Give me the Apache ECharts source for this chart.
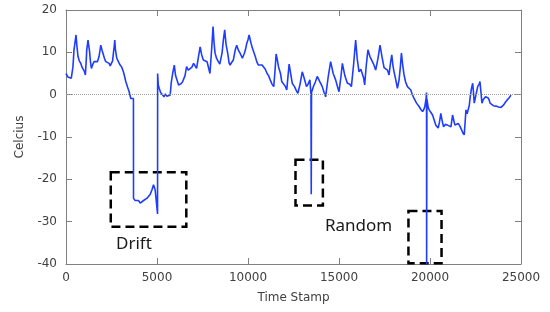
<!DOCTYPE html>
<html>
<head>
<meta charset="utf-8">
<script src="https://cdn.jsdelivr.net/npm/echarts@6/dist/echarts.min.js"></script>
<style>
  html, body { margin: 0; padding: 0; background: #fff; }
  #chart { width: 550px; height: 312px; }
</style>
</head>
<body>
<div id="chart"></div>
<script>
// time stamps (x) and temperature readings (y)
const timeStamps = [
  0, 100, 200, 290, 380, 440, 500, 550, 600, 660, 730, 810, 880, 955, 1010, 1065,
  1110, 1140, 1210, 1250, 1285, 1340, 1395, 1460, 1540, 1630, 1725, 1815, 1870, 1910,
  1980, 2055, 2120, 2185, 2280, 2370, 2430, 2495, 2560, 2605, 2650, 2680, 2720, 2790,
  2880, 2975, 3060, 3155, 3220, 3285, 3380, 3470, 3560, 3705,
  3710, 3800, 3890, 3980, 4080, 4165, 4260, 4350, 4440, 4530, 4630, 4720, 4810, 4900,
  4995, 5030,
  5035, 5070, 5120, 5200, 5300, 5380, 5460, 5550, 5640, 5725, 5780, 5860, 5950, 6020,
  6095, 6185, 6300, 6400, 6460, 6540, 6625, 6720, 6810, 6920, 7010, 7085, 7175, 7280,
  7370, 7450, 7545, 7650, 7750, 7820, 7910, 8000, 8080, 8130, 8190, 8280, 8370, 8450,
  8520, 8580, 8645, 8720, 8790, 8885, 8960, 9015, 9100, 9195, 9300, 9380, 9470, 9565,
  9630, 9690, 9800, 9860, 9930, 10000, 10060, 10095, 10170, 10240, 10315, 10400, 10480,
  10570, 10665, 10775, 10850, 10950, 11050, 11130, 11220, 11320, 11415, 11490, 11545,
  11600, 11675, 11785, 11855, 11950, 12060, 12130, 12200, 12260, 12330, 12430, 12555,
  12650, 12740, 12860, 12980, 13080, 13215, 13300, 13400, 13460,
  13475, 13490, 13600, 13700, 13805, 13950, 14080, 14180, 14265, 14400, 14540, 14680,
  14815, 14910, 15000, 15100, 15185, 15320, 15460, 15580, 15680, 15800, 15915, 16000,
  16100, 16200, 16285, 16350, 16410, 16500, 16590, 16700, 16835, 16920, 17015, 17140,
  17255, 17360, 17475, 17580, 17660, 17750, 17830, 17900, 17960, 18025, 18120, 18210,
  18300, 18370, 18430, 18500, 18575, 18660, 18760, 18850, 18945, 19030, 19125, 19260,
  19400, 19500, 19590, 19660, 19715, 19780, 19810,
  19815, 19830, 19900, 19955, 20050, 20140, 20230, 20320, 20450, 20520, 20595, 20660,
  20745, 20850, 20965, 21060, 21150, 21240, 21300, 21370, 21460, 21550, 21650, 21735,
  21800, 21880, 21930, 21975, 22040, 22100, 22160, 22210, 22280, 22345, 22390, 22430,
  22530, 22620, 22700, 22745, 22800, 22855, 22920, 22980, 23050, 23130, 23200, 23255,
  23300, 23350, 23480, 23625, 23760, 23900, 23980, 24050, 24140, 24230, 24340, 24450
];
const celcius = [
  5.0, 4.2, 4.4, 3.9, 6.5, 10.6, 12.5, 14.1, 11.5, 9.0, 8.0, 7.4, 6.5, 6.2, 5.5, 4.65,
  8.0, 10.6, 12.9, 11.5, 10.6, 8.0, 6.2, 7.0, 7.8, 7.4, 7.8, 9.0, 10.5, 11.7,
  10.5, 10.2, 8.5, 7.8, 7.8, 7.4, 6.8, 6.6, 8.0, 9.8, 11.5, 12.9, 10.5, 8.6,
  7.8, 7.0, 6.5, 5.4, 4.3, 3.1, 1.8, 0.7, -0.9, -0.9,
  -24.5, -25.0, -25.3, -25.0, -25.6, -25.5, -25.0, -24.9, -24.5, -24.1, -23.5, -22.5, -21.3, -22.5,
  -22.9, -28.2,
  5.0, 2.3, 1.5, 0.5, 0.0, -0.5, 0.2, -0.4, 0.0, -0.1, 2.7, 5.0, 7.0, 4.5,
  3.5, 2.3, 2.5, 3.0, 2.7, 4.5, 6.6, 5.8, 5.4, 6.5, 7.4, 7.4, 6.2, 9.0,
  11.3, 9.5, 8.2, 8.0, 7.8, 7.8, 5.0, 10.6, 16.1, 12.5, 9.8, 8.5, 7.8, 7.2,
  6.8, 10.0, 12.9, 15.3, 12.0, 9.8, 7.5, 7.0, 7.6, 8.2, 10.6, 11.7, 10.5, 9.8,
  9.2, 8.6, 9.8, 10.6, 12.1, 13.0, 14.1, 14.1, 12.1, 11.0, 11.3, 9.0, 7.8,
  7.0, 6.6, 7.0, 7.4, 6.0, 5.0, 4.5, 3.5, 2.5, 1.9, 6.0, 9.6,
  8.5, 6.6, 5.0, 3.1, 3.5, 1.9, 1.1, 4.5, 7.2, 6.8, 2.7, 1.9,
  1.0, 0.3, 2.5, 5.4, 4.0, 1.9, 2.5, 3.5, 0.0,
  -23.5, 0.5, 2.0, 3.0, 4.3, 3.0, 1.9, 0.5, -0.5, 4.0, 7.8, 5.0,
  3.5, 2.0, 0.7, 4.0, 7.4, 4.5, 2.7, 2.5, 1.9, 7.0, 12.9, 8.5,
  5.4, 6.0, 6.2, 4.0, 2.3, 7.0, 10.6, 9.0, 7.8, 7.0, 5.8, 8.5,
  11.7, 9.0, 6.4, 6.0, 5.8, 4.65, 7.5, 9.4, 7.0, 5.4, 3.5, 1.5,
  3.5, 6.5, 9.8, 7.0, 4.65, 3.0, 1.9, 1.5, 1.1, 0.0, -0.9, -2.0,
  -2.8, -3.5, -4.0, -3.5, -2.8, -1.0, 0.5,
  -40, -1.0, -3.0, -3.6, -4.2, -4.8, -6.0, -7.2, -7.9, -6.5, -4.4, -6.0,
  -7.6, -7.0, -7.2, -7.5, -7.6, -4.8, -6.0, -7.2, -7.0, -6.8, -7.5, -8.3,
  -9.0, -9.5, -6.5, -3.6, -4.5, -4.8, -2.5, -0.5, 1.5, 2.7, 0.5, -2.0,
  0.0, 1.9, 2.5, 3.1, 0.5, -2.0, -1.2, -0.9, -0.5, -0.1, -0.8, -1.3,
  -2.0, -2.4, -2.6, -2.7, -2.9, -3.0, -2.8, -2.4, -1.8, -1.3, -0.8, -0.1
];

// dashed annotation boxes: [xStart, yTop, xEnd, yBottom]
const boxDrift = [2460, -18.3, 6610, -31.2];
const boxSpike = [12610, -15.4, 14115, -26.2];
const boxRandom = [18816, -27.5, 20634, -39.8];

const xTicks = { min: 0, max: 25000, interval: 5000 };
const yTicks = { min: -40, max: 20, interval: 10 };

const points = timeStamps.map((t, i) => [t, celcius[i]]);
const toArea = b => [{ xAxis: b[0], yAxis: b[1] }, { xAxis: b[2], yAxis: b[3] }];

const axisGray = "#808080";
const labelFont = { fontFamily: "DejaVu Sans", fontSize: 12, color: "#404040" };
const tick = { show: true, inside: true, length: 6, lineStyle: { color: axisGray } };
const line = { show: true, onZero: false, lineStyle: { color: axisGray } };

const chart = echarts.init(document.getElementById("chart"), null, { renderer: "canvas" });
chart.setOption({
  animation: false,
  grid: { left: 66, right: 29, top: 10, bottom: 48 },
  xAxis: [
    {
      type: "value",
      ...xTicks,
      name: "Time Stamp",
      nameLocation: "middle",
      nameGap: 28,
      nameTextStyle: labelFont,
      axisLine: line,
      axisTick: tick,
      axisLabel: { ...labelFont, margin: 8, formatter: v => String(v) },
      splitLine: { show: false },
    },
    {
      type: "value",
      ...xTicks,
      position: "top",
      axisLine: line,
      axisTick: tick,
      axisLabel: { show: false },
      splitLine: { show: false },
    },
  ],
  yAxis: [
    {
      type: "value",
      ...yTicks,
      name: "Celcius",
      nameLocation: "middle",
      nameGap: 40,
      nameTextStyle: labelFont,
      axisLine: line,
      axisTick: tick,
      axisLabel: { ...labelFont, margin: 9 },
      splitLine: { show: false },
    },
    {
      type: "value",
      ...yTicks,
      position: "right",
      axisLine: line,
      axisTick: tick,
      axisLabel: { show: false },
      splitLine: { show: false },
    },
  ],
  series: [
    {
      type: "line",
      data: points,
      showSymbol: false,
      color: "#1f3dff",
      lineStyle: { width: 1.6 },
      markLine: {
        silent: true,
        symbol: "none",
        label: { show: false },
        lineStyle: { type: "dotted", color: "#a0a0a0", width: 1 },
        data: [{ yAxis: 0 }],
      },
      markArea: {
        silent: true,
        itemStyle: {
          color: "rgba(0,0,0,0)",
          borderColor: "#000",
          borderWidth: 2.5,
          borderType: [9, 5],
        },
        data: [toArea(boxDrift), toArea(boxSpike), toArea(boxRandom)],
      },
    },
  ],
  graphic: [
    {
      type: "text",
      left: 116,
      top: 236,
      style: { text: "Drift", font: "17px 'Noto Sans'", fill: "#1a1a1a" },
    },
    {
      type: "text",
      left: 325,
      top: 218,
      style: { text: "Random", font: "17px 'Noto Sans'", fill: "#1a1a1a" },
    },
  ],
});
</script>
</body>
</html>
